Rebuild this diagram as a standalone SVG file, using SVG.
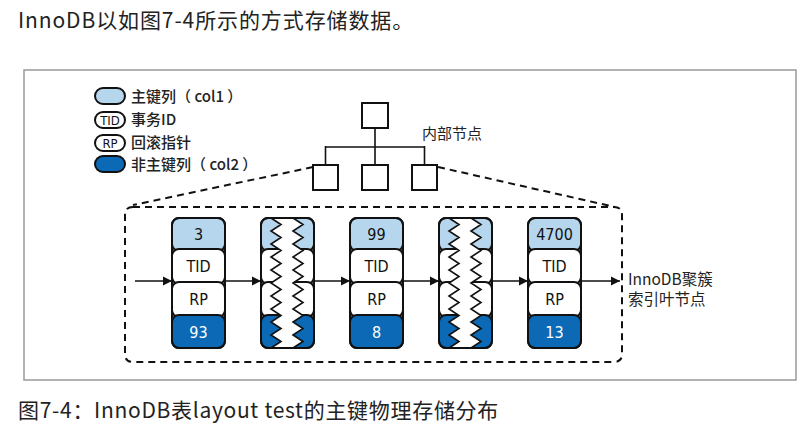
<svg xmlns="http://www.w3.org/2000/svg" xmlns:xlink="http://www.w3.org/1999/xlink" width="805" height="427" viewBox="0 0 805 427">
<style>
.cjk{font-family:"Noto Sans CJK SC","Noto Sans",sans-serif;fill:#222}
.cond{font-family:"DejaVu Sans Condensed","DejaVu Sans",sans-serif;font-stretch:condensed;font-size:16px;text-anchor:middle;fill:#111}
.lb{fill:#b6d6ee}
.db{fill:#0b69b5}
.wh{fill:#fff}
.seg{stroke:#111;stroke-width:2}
.box{fill:#fff;stroke:#111;stroke-width:2}
.dash{fill:none;stroke:#111;stroke-width:2;stroke-dasharray:7 5}
.conn{stroke:#111;stroke-width:1.6;fill:none}
.leg{font-size:15px;font-weight:500}
</style>
<defs>
<marker id="ah" markerWidth="10" markerHeight="10" refX="9" refY="5" orient="auto" markerUnits="userSpaceOnUse">
<path d="M0,0.5 L9,5 L0,9.5 Z" fill="#111"/>
</marker>
<g id="cellbase">
<rect class="lb seg" x="0" y="218" width="53" height="33" rx="7"/>
<rect class="wh seg" x="0" y="249" width="53" height="35" rx="7"/>
<rect class="wh seg" x="0" y="282" width="53" height="35" rx="7"/>
<rect class="db seg" x="0" y="315" width="53" height="33" rx="7"/>
</g>
<g id="zigcol">
<use xlink:href="#cellbase"/>
<polygon fill="#fff" points="10,218 20,224.5 10,231 20,237.5 10,244 20,250.5 10,257 20,263.5 10,270 20,276.5 10,283 20,289.5 10,296 20,302.5 10,309 20,315.5 10,322 20,328.5 10,335 20,341.5 10,348 32,348 42,341.5 32,335 42,328.5 32,322 42,315.5 32,309 42,302.5 32,296 42,289.5 32,283 42,276.5 32,270 42,263.5 32,257 42,250.5 32,244 42,237.5 32,231 42,224.5 32,218"/>
<polyline fill="none" stroke="#111" stroke-width="1.6" stroke-linejoin="miter" points="10,218 20,224.5 10,231 20,237.5 10,244 20,250.5 10,257 20,263.5 10,270 20,276.5 10,283 20,289.5 10,296 20,302.5 10,309 20,315.5 10,322 20,328.5 10,335 20,341.5 10,348"/>
<polyline fill="none" stroke="#111" stroke-width="1.6" stroke-linejoin="miter" points="32,218 42,224.5 32,231 42,237.5 32,244 42,250.5 32,257 42,263.5 32,270 42,276.5 32,283 42,289.5 32,296 42,302.5 32,309 42,315.5 32,322 42,328.5 32,335 42,341.5 32,348"/>
<rect x="0" y="218" width="53" height="130" rx="7" fill="none" stroke="#111" stroke-width="2"/>
</g>
</defs>

<rect width="805" height="427" fill="#fff"/>

<text class="cjk" x="18" y="28" font-size="21" letter-spacing="0.9" fill="#333">InnoDB以如图7-4所示的方式存储数据。</text>

<rect id="frame" x="24" y="70" width="772" height="310" fill="none" stroke="#999" stroke-width="1.5"/>

<g id="legend">
<rect class="lb" x="95" y="88" width="30" height="16" rx="8" stroke="#111" stroke-width="2"/>
<text class="cjk leg" x="131" y="102">主键列（ col1 ）</text>
<rect x="95" y="112" width="30" height="16" rx="8" fill="#fff" stroke="#111" stroke-width="2"/>
<text class="cond" x="110" y="125" style="font-size:13px">TID</text>
<text class="cjk leg" x="131" y="125">事务ID</text>
<rect x="95" y="135" width="30" height="16" rx="8" fill="#fff" stroke="#111" stroke-width="2"/>
<text class="cond" x="110" y="148" style="font-size:13px">RP</text>
<text class="cjk leg" x="131" y="148">回滚指针</text>
<rect class="db" x="95" y="156" width="30" height="16" rx="8" stroke="#111" stroke-width="2"/>
<text class="cjk leg" x="131" y="170">非主键列（ col2 ）</text>
</g>

<g id="tree">
<rect class="box" x="362" y="103" width="26" height="25"/>
<rect class="box" x="313" y="165" width="25" height="25"/>
<rect class="box" x="362" y="165" width="26" height="25"/>
<rect class="box" x="412" y="165" width="25" height="25"/>
<path class="conn" d="M375,128 V147 M325.5,147 H424.5 M325.5,146 V165 M375,147 V165 M424.5,146 V165" stroke-width="2"/>
<text class="cjk" x="422" y="139" font-size="15">内部节点</text>
</g>

<g id="leafbox">
<path class="dash" d="M313,167 L133,205"/>
<path class="dash" d="M438,167 L615,207"/>
<path class="dash" d="M133,207 H614 Q622,207 622,215 V354 Q622,362 614,362 H133 Q125,362 125,354 V215 Q125,207 133,207 Z"/>
</g>

<g id="connectors">
<line class="conn" x1="135" y1="281" x2="172" y2="281" marker-end="url(#ah)"/>
<line class="conn" x1="225" y1="281" x2="261" y2="281" marker-end="url(#ah)"/>
<line class="conn" x1="314" y1="281" x2="350" y2="281" marker-end="url(#ah)"/>
<line class="conn" x1="403" y1="281" x2="439" y2="281" marker-end="url(#ah)"/>
<line class="conn" x1="492" y1="281" x2="528" y2="281" marker-end="url(#ah)"/>
<line class="conn" x1="581" y1="281" x2="620" y2="281" marker-end="url(#ah)"/>
</g>

<g id="row1" transform="translate(172,0)">
<use xlink:href="#cellbase"/>
<rect x="0" y="218" width="53" height="130" rx="7" fill="none" stroke="#111" stroke-width="2"/>
<text class="cond" x="26.5" y="240">3</text>
<text class="cond" x="26.5" y="272">TID</text>
<text class="cond" x="26.5" y="305">RP</text>
<text class="cond" x="26.5" y="338" style="fill:#fff">93</text>
</g>
<g id="gap1"><use xlink:href="#zigcol" x="261"/></g>
<g id="row2" transform="translate(350,0)">
<use xlink:href="#cellbase"/>
<rect x="0" y="218" width="53" height="130" rx="7" fill="none" stroke="#111" stroke-width="2"/>
<text class="cond" x="26.5" y="240">99</text>
<text class="cond" x="26.5" y="272">TID</text>
<text class="cond" x="26.5" y="305">RP</text>
<text class="cond" x="26.5" y="338" style="fill:#fff">8</text>
</g>
<g id="gap2"><use xlink:href="#zigcol" x="439"/></g>
<g id="row3" transform="translate(528,0)">
<use xlink:href="#cellbase"/>
<rect x="0" y="218" width="53" height="130" rx="7" fill="none" stroke="#111" stroke-width="2"/>
<text class="cond" x="26.5" y="240">4700</text>
<text class="cond" x="26.5" y="272">TID</text>
<text class="cond" x="26.5" y="305">RP</text>
<text class="cond" x="26.5" y="338" style="fill:#fff">13</text>
</g>

<g id="leaflabel">
<text class="cjk" x="628" y="285" font-size="15.5">InnoDB聚簇</text>
<text class="cjk" x="628" y="305" font-size="15.5">索引叶节点</text>
</g>

<text class="cjk" x="18" y="418" font-size="21" letter-spacing="0.7" fill="#333">图7-4：InnoDB表layout test的主键物理存储分布</text>
</svg>
